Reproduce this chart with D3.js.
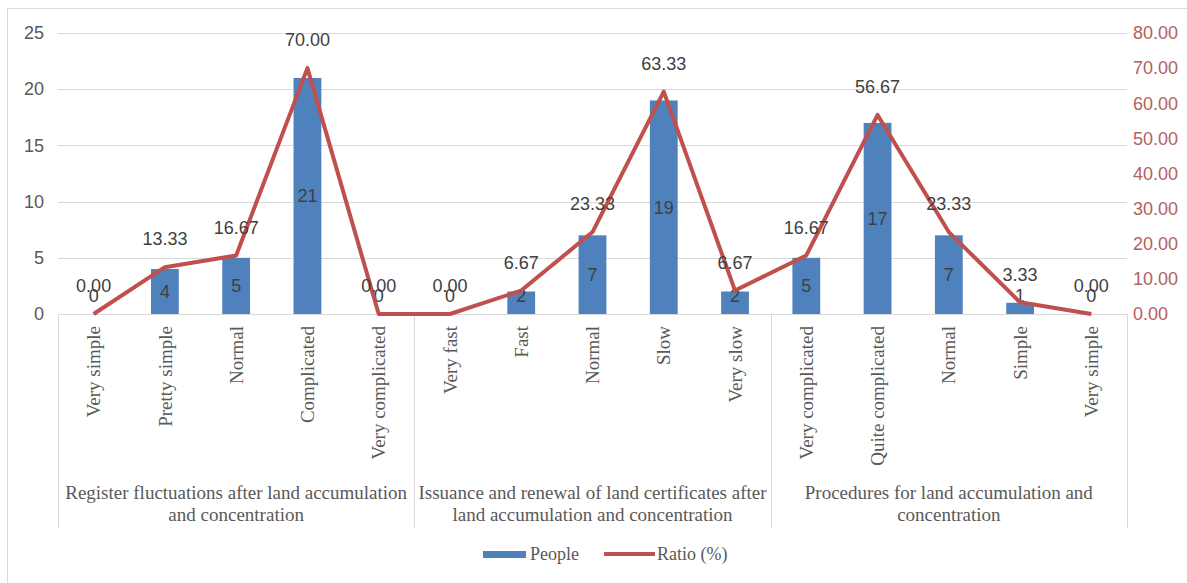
<!DOCTYPE html>
<html lang="en">
<head>
<meta charset="UTF-8">
<title>People and ratio</title>
<script src="https://cdnjs.cloudflare.com/ajax/libs/d3/7.8.5/d3.min.js"></script>
<style>
    * { margin: 0; padding: 0; box-sizing: border-box; }
    body { background: #fff; width: 1187px; height: 583px; overflow: hidden; }
    svg { display: block; }
</style>
</head>
<body>
<div id="chart"></div>
<script>
    // chart data
    const groups = [
        ["Register fluctuations after land accumulation", "and concentration"],
        ["Issuance and renewal of land certificates after", "land accumulation and concentration"],
        ["Procedures for land accumulation and", "concentration"]
    ];
    const categories = [
        "Very simple", "Pretty simple", "Normal", "Complicated", "Very complicated",
        "Very fast", "Fast", "Normal", "Slow", "Very slow",
        "Very complicated", "Quite complicated", "Normal", "Simple", "Very simple"
    ];
    const people = [0, 4, 5, 21, 0, 0, 2, 7, 19, 2, 5, 17, 7, 1, 0];
    const ratio = [0.00, 13.33, 16.67, 70.00, 0.00, 0.00, 6.67, 23.33, 63.33, 6.67, 16.67, 56.67, 23.33, 3.33, 0.00];
    const leftTicks = [0, 5, 10, 15, 20, 25];
    const rightTicks = [0, 10, 20, 30, 40, 50, 60, 70, 80];

    const width = 1187, height = 583;
    const plot = { left: 58, right: 1127, top: 33, bottom: 314 };

    const svg = d3.select('#chart').append('svg')
        .attr('width', width)
        .attr('height', height);

    // outer frame
    svg.append('rect')
        .attr('x', 7.5).attr('y', 8.5)
        .attr('width', 1200).attr('height', 600)
        .attr('fill', '#fff')
        .attr('stroke', '#d9d9d9');

    const idx = categories.map((d, i) => i);
    const x = d3.scaleBand()
        .domain(idx)
        .range([plot.left, plot.right])
        .paddingInner(0.61)
        .paddingOuter(0.305);
    const y = d3.scaleLinear().domain([0, 25]).range([plot.bottom, plot.top]);
    const y2 = d3.scaleLinear().domain([0, 80]).range([plot.bottom, plot.top]);
    const cx = i => x(i) + x.bandwidth() / 2;

    const numFont = '"Liberation Sans", Arial, sans-serif';
    const txtFont = '"Liberation Serif", "Times New Roman", serif';

    // gridlines
    svg.append('g')
        .selectAll('line')
        .data(leftTicks.slice(1))
        .join('line')
        .attr('x1', plot.left).attr('x2', plot.right)
        .attr('y1', d => Math.round(y(d)) + 0.5).attr('y2', d => Math.round(y(d)) + 0.5)
        .attr('stroke', '#d9d9d9');

    // left axis
    const leftAxis = svg.append('g')
        .attr('transform', `translate(${plot.left - 14},0)`)
        .call(d3.axisLeft(y).tickValues(leftTicks).tickSize(0).tickPadding(0));
    leftAxis.select('.domain').remove();
    leftAxis.selectAll('text')
        .attr('font-family', numFont).attr('font-size', 18).attr('fill', '#595959');

    // right axis
    const rightAxis = svg.append('g')
        .attr('transform', `translate(${plot.right + 6},0)`)
        .call(d3.axisRight(y2).tickValues(rightTicks).tickSize(0).tickPadding(0)
            .tickFormat(d3.format('.2f')));
    rightAxis.select('.domain').remove();
    rightAxis.selectAll('text')
        .attr('font-family', numFont).attr('font-size', 18).attr('fill', '#b5605e');

    // category axis: baseline, group dividers
    const axisG = svg.append('g');
    axisG.append('line')
        .attr('x1', plot.left).attr('x2', plot.right)
        .attr('y1', plot.bottom + 0.5).attr('y2', plot.bottom + 0.5)
        .attr('stroke', '#d9d9d9');
    const step = x.step();
    const dividers = [0, 5, 10, 15].map(i => plot.left + i * step);
    axisG.selectAll('.divider')
        .data(dividers)
        .join('line')
        .attr('class', 'divider')
        .attr('x1', d => Math.round(d) + 0.5).attr('x2', d => Math.round(d) + 0.5)
        .attr('y1', plot.bottom).attr('y2', 528)
        .attr('stroke', '#d9d9d9');

    // category labels, rotated
    axisG.selectAll('.cat')
        .data(categories)
        .join('text')
        .attr('class', 'cat')
        .attr('transform', (d, i) => `translate(${cx(i)},${plot.bottom + 12}) rotate(-90)`)
        .attr('text-anchor', 'end')
        .attr('dy', '0.35em')
        .attr('font-family', txtFont).attr('font-size', 19).attr('fill', '#595959')
        .text(d => d);

    // group labels
    axisG.selectAll('.grp')
        .data(groups)
        .join('text')
        .attr('class', 'grp')
        .attr('x', (d, i) => (dividers[i] + dividers[i + 1]) / 2)
        .attr('y', 499)
        .attr('text-anchor', 'middle')
        .attr('font-family', txtFont).attr('font-size', 19).attr('fill', '#595959')
        .selectAll('tspan')
        .data(d => d)
        .join('tspan')
        .attr('x', function () { return d3.select(this.parentNode).attr('x'); })
        .attr('dy', (d, i) => i === 0 ? 0 : 22)
        .text(d => d);

    // bars
    svg.append('g')
        .selectAll('rect')
        .data(people)
        .join('rect')
        .attr('x', (d, i) => x(i))
        .attr('y', d => y(d))
        .attr('width', x.bandwidth())
        .attr('height', d => y(0) - y(d))
        .attr('fill', '#4f81bd');

    // bar labels (inside centre)
    svg.append('g')
        .selectAll('text')
        .data(people)
        .join('text')
        .attr('x', (d, i) => cx(i))
        .attr('y', d => Math.min((y(d) + y(0)) / 2, y(0) - 18))
        .attr('dy', '0.35em')
        .attr('text-anchor', 'middle')
        .attr('font-family', numFont).attr('font-size', 18).attr('fill', '#404040')
        .text(d => d);

    // ratio line
    const line = d3.line()
        .x((d, i) => cx(i))
        .y(d => y2(d));
    svg.append('path')
        .datum(ratio)
        .attr('d', line)
        .attr('fill', 'none')
        .attr('stroke', '#c0504d')
        .attr('stroke-width', 4)
        .attr('stroke-linejoin', 'round');

    // ratio labels above points
    svg.append('g')
        .selectAll('text')
        .data(ratio)
        .join('text')
        .attr('x', (d, i) => cx(i))
        .attr('y', d => y2(d) - 28)
        .attr('dy', '0.35em')
        .attr('text-anchor', 'middle')
        .attr('font-family', numFont).attr('font-size', 18).attr('fill', '#404040')
        .text(d => d3.format('.2f')(d));

    // legend
    const legend = svg.append('g').attr('transform', 'translate(0,554)');
    legend.append('rect')
        .attr('x', 483).attr('y', -3).attr('width', 43).attr('height', 7)
        .attr('fill', '#4f81bd');
    legend.append('text')
        .attr('x', 530).attr('dy', '0.35em')
        .attr('font-family', txtFont).attr('font-size', 18).attr('fill', '#595959')
        .text('People');
    legend.append('line')
        .attr('x1', 604).attr('x2', 655)
        .attr('stroke', '#c0504d').attr('stroke-width', 4);
    legend.append('text')
        .attr('x', 657).attr('dy', '0.35em')
        .attr('font-family', txtFont).attr('font-size', 18).attr('fill', '#595959')
        .text('Ratio (%)');
</script>
</body>
</html>
